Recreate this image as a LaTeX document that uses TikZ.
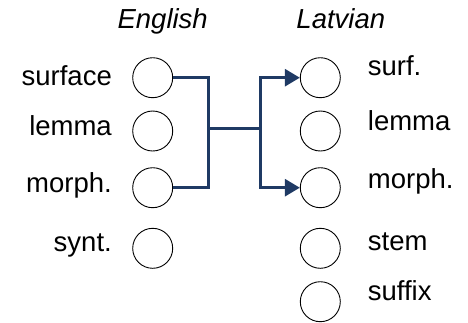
\documentclass[tikz,border=0pt]{standalone}
\usepackage{fontspec}
\setmainfont{Liberation Sans}
\usetikzlibrary{arrows.meta}
\definecolor{navy}{HTML}{1F3A64}
\begin{document}
\begin{tikzpicture}[x=1pt,y=-1pt,
  slot/.style={circle,draw=black,line width=0.9pt,minimum size=40pt,inner sep=0pt},
  lbl/.style={font=\fontsize{27.5}{33}\selectfont,inner sep=0pt},
  hdr/.style={font=\fontsize{27.5}{33}\selectfont\itshape,inner sep=0pt,anchor=base},
  link/.style={draw=navy,line width=2.8pt},
  arr/.style={link,-{Triangle[length=15pt,width=17pt]}}]
\useasboundingbox (0,0) rectangle (468,322);
\node[hdr] (en) at (162.7,28.3) {English};
\node[hdr] (lv) at (340.8,28.3) {Latvian};
% English
\node[slot] (e1) at (152.7,77.7) {};
\node[slot] (e2) at (152.7,131) {};
\node[slot] (e3) at (152.7,187.7) {};
\node[slot] (e4) at (152.7,248.3) {};
\node[lbl,anchor=base east] (le1) at (112,85) {surface};
\node[lbl,anchor=base east] (le2) at (112,135) {lemma};
\node[lbl,anchor=base east] (le3) at (112,192.7) {morph.};
\node[lbl,anchor=base east] (le4) at (112,251.7) {synt.};
% Latvian
\node[slot] (l1) at (320.3,77.7) {};
\node[slot] (l2) at (320.3,131) {};
\node[slot] (l3) at (320.3,187.7) {};
\node[slot] (l4) at (320.3,248.3) {};
\node[slot] (l5) at (320.3,301.7) {};
\node[lbl,anchor=base west] (ll1) at (367.7,75) {surf.};
\node[lbl,anchor=base west] (ll2) at (367.7,130.5) {lemma};
\node[lbl,anchor=base west] (ll3) at (367.7,188.3) {morph.};
\node[lbl,anchor=base west] (ll4) at (367.7,250) {stem};
\node[lbl,anchor=base west] (ll5) at (367.7,300) {suffix};
% connectors
\coordinate (jl) at (208.3,128.3);
\coordinate (jr) at (260.3,128.3);
\draw[link] (e1.east) -| (jl);
\draw[link] (e3.east) -| (jl);
\draw[link] (jl) -- (jr);
\draw[arr] (jr) |- (l1.west);
\draw[arr] (jr) |- (l3.west);
\end{tikzpicture}
\end{document}
